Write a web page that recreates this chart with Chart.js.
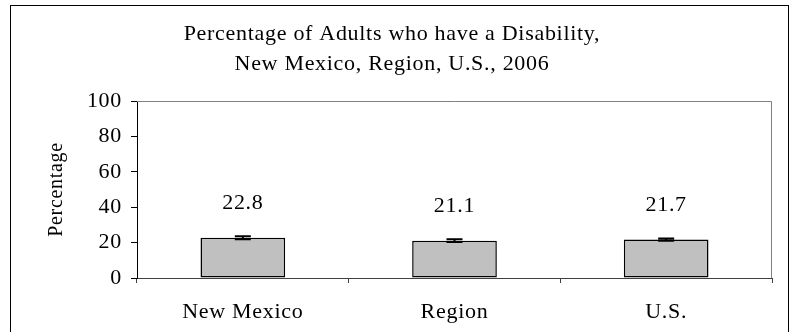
<!DOCTYPE html>
<html>
<head>
<meta charset="utf-8">
<script src="https://cdn.jsdelivr.net/npm/chart.js@4.4.1/dist/chart.umd.min.js"></script>
<style>
  html, body { margin: 0; padding: 0; background: #fff; }
  canvas { display: block; }
</style>
</head>
<body>
<canvas id="disabilityChart" width="796" height="332"></canvas>
<script>
const categories = ['New Mexico', 'Region', 'U.S.'];
const percentages = [22.8, 21.1, 21.7];
const ciLow = [21.9, 20.3, 21.1];
const ciHigh = [23.6, 21.9, 22.3];
const yTicks = [0, 20, 40, 60, 80, 100];
const titleLines = ['Percentage of Adults who have a Disability,', 'New Mexico, Region, U.S., 2006'];

const FONT = '"Liberation Serif", "Times New Roman", serif';

// the original text is drawn a bit wide, so space the letters out a little
const spacingPlugin = {
    id: 'spacing',
    beforeLayout(chart) { chart.ctx.letterSpacing = '0.7px'; },
    beforeDraw(chart) { chart.ctx.letterSpacing = '0.7px'; }
};

// outer frame + gray top/right edges of the plot area
const framePlugin = {
    id: 'frame',
    beforeDraw(chart) {
        const ctx = chart.ctx;
        ctx.save();
        ctx.fillStyle = '#fff';
        ctx.fillRect(0, 0, chart.width, chart.height);
        ctx.strokeStyle = '#000';
        ctx.lineWidth = 1;
        ctx.strokeRect(10.5, 5.5, 778, 340);
        ctx.restore();
    },
    afterDraw(chart) {
        const { ctx, chartArea: a } = chart;
        ctx.save();
        ctx.strokeStyle = '#808080';
        ctx.lineWidth = 1;
        ctx.beginPath();
        ctx.moveTo(a.left, a.top + 0.5);
        ctx.lineTo(a.right - 0.5, a.top + 0.5);
        ctx.lineTo(a.right - 0.5, a.bottom);
        ctx.stroke();
        ctx.restore();
    }
};

// error bars and value labels above each bar
const errorBarPlugin = {
    id: 'errorBars',
    afterDatasetsDraw(chart) {
        const ctx = chart.ctx;
        const y = chart.scales.y;
        const bars = chart.getDatasetMeta(0).data;
        ctx.save();
        ctx.strokeStyle = '#000';
        ctx.lineWidth = 2;
        bars.forEach((bar, i) => {
            const lo = y.getPixelForValue(ciLow[i]);
            const hi = y.getPixelForValue(ciHigh[i]);
            ctx.beginPath();
            ctx.moveTo(bar.x, lo); ctx.lineTo(bar.x, hi);
            ctx.moveTo(bar.x - 8, lo); ctx.lineTo(bar.x + 8, lo);
            ctx.moveTo(bar.x - 8, hi); ctx.lineTo(bar.x + 8, hi);
            ctx.stroke();

            ctx.fillStyle = '#000';
            ctx.font = '22px ' + FONT;
            ctx.textAlign = 'center';
            ctx.textBaseline = 'middle';
            ctx.fillText(percentages[i].toFixed(1), bar.x, y.getPixelForValue(percentages[i]) - 34);
        });
        ctx.restore();
    }
};

const ctx = document.getElementById('disabilityChart').getContext('2d');
const disabilityChart = new Chart(ctx, {
    type: 'bar',
    data: {
        labels: categories,
        datasets: [{
            data: percentages,
            backgroundColor: '#c0c0c0',
            borderColor: '#000',
            borderWidth: 1.5,
            borderSkipped: false,
            categoryPercentage: 1,
            barPercentage: 0.4
        }]
    },
    options: {
        responsive: false,
        animation: false,
        layout: { padding: { top: 8, left: 12, right: 24, bottom: 0 } },
        scales: {
            x: {
                border: { color: '#404040', width: 1 },
                grid: { drawOnChartArea: false, tickLength: 5, color: '#404040', offset: true },
                ticks: { color: '#000', padding: 16, font: { family: FONT, size: 22 } },
                afterFit(scale) { scale.height = 54; }
            },
            y: {
                min: 0,
                max: 100,
                border: { color: '#000', width: 1 },
                grid: { drawOnChartArea: false, tickLength: 6, color: '#000' },
                afterBuildTicks(scale) { scale.ticks = yTicks.map(v => ({ value: v })); },
                ticks: { color: '#000', padding: 9, font: { family: FONT, size: 22 } },
                title: {
                    display: true,
                    text: 'Percentage',
                    color: '#000',
                    padding: { top: 33 },
                    font: { family: FONT, size: 20 }
                },
                afterFit(scale) { scale.width = 125; }
            }
        },
        plugins: {
            legend: { display: false },
            tooltip: { enabled: false },
            title: {
                display: true,
                text: titleLines,
                color: '#000',
                padding: { top: 11, bottom: 22 },
                font: { family: FONT, size: 22, weight: 'normal', lineHeight: 30 / 22 }
            }
        }
    },
    plugins: [spacingPlugin, framePlugin, errorBarPlugin]
});
</script>
</body>
</html>
